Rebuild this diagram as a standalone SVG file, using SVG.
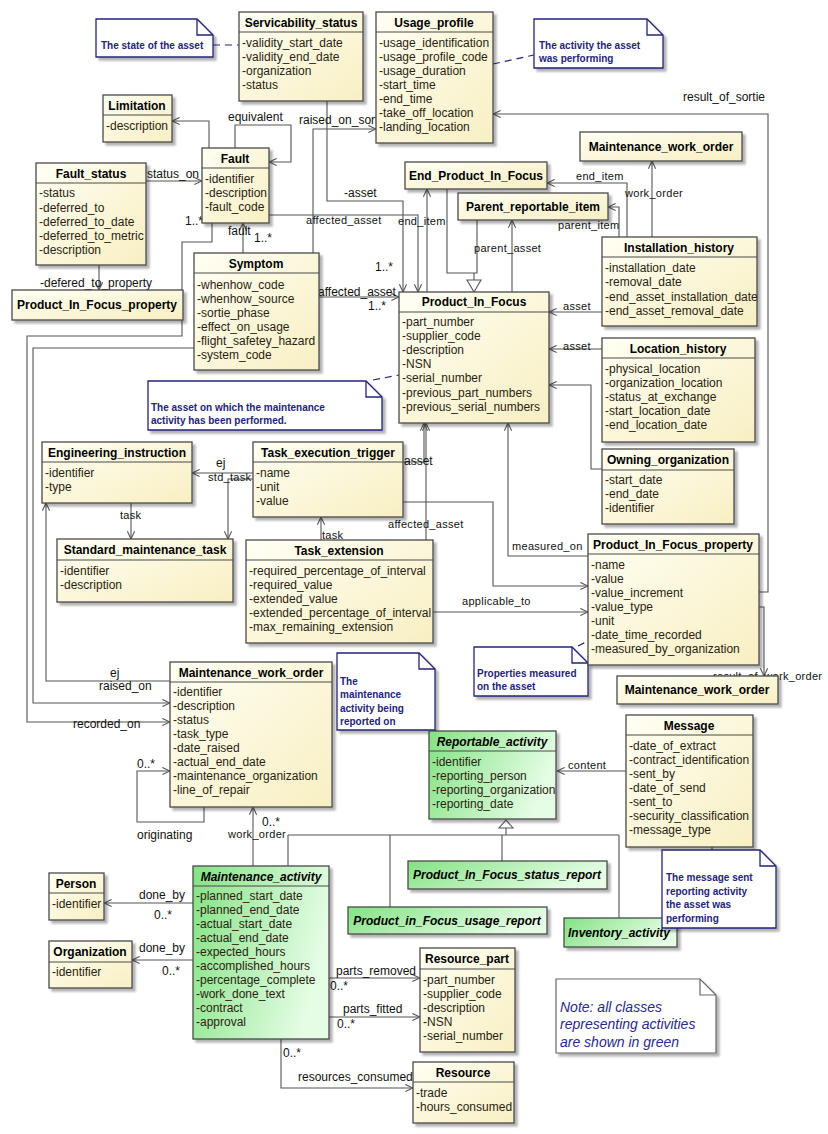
<svg xmlns="http://www.w3.org/2000/svg" width="828" height="1134" viewBox="0 0 828 1134">
<defs>
<linearGradient id="gy" x1="0" y1="0" x2="1" y2="1"><stop offset="0" stop-color="#fffff4"/><stop offset="1" stop-color="#f8efc2"/></linearGradient>
<linearGradient id="gg" x1="0" y1="0" x2="1" y2="0.3"><stop offset="0" stop-color="#84e284"/><stop offset="1" stop-color="#e4fde4"/></linearGradient>
<filter id="sh" x="-10%" y="-10%" width="125%" height="130%"><feDropShadow dx="3" dy="3" stdDeviation="1.2" flood-color="#000" flood-opacity="0.3"/></filter>
<marker id="oa" viewBox="0 0 10 10" refX="9.5" refY="5" markerWidth="9" markerHeight="9" orient="auto" markerUnits="userSpaceOnUse"><path d="M1,1 L9.5,5 L1,9" fill="none" stroke="#555" stroke-width="1.2"/></marker>
</defs>
<style>
.box{fill:url(#gy);stroke:#4a4a4a;stroke-width:1.3;filter:url(#sh)}
.gbox{fill:url(#gg);stroke:#4a4a4a;stroke-width:1.3;filter:url(#sh)}
.sep{stroke:#4a4a4a;stroke-width:1.2}
.t{font-family:"Liberation Sans",Arial,sans-serif;font-size:12px;font-weight:bold;text-anchor:middle;fill:#000}
.ti{font-family:"Liberation Sans",Arial,sans-serif;font-size:12px;font-weight:bold;font-style:italic;text-anchor:middle;fill:#000}
.a{font-family:"Liberation Sans",Arial,sans-serif;font-size:12px;fill:#2b1d10}
.c{fill:none;stroke:#555;stroke-width:1.1}
.ar{marker-end:url(#oa)}
.lb{font-family:"Liberation Sans",Arial,sans-serif;font-size:12px;fill:#111}
.ls{font-family:"Liberation Sans",Arial,sans-serif;font-size:11px;fill:#111;letter-spacing:0.3px}
.note{fill:#fff;stroke:#24247a;stroke-width:1.3;filter:url(#sh)}
.gnote{fill:#fff;stroke:#666;stroke-width:1.2;filter:url(#sh)}
.fold{fill:none;stroke:#24247a;stroke-width:1.3}
.gfold{fill:none;stroke:#666;stroke-width:1.2}
.nt{font-family:"Liberation Sans",Arial,sans-serif;font-size:10px;font-weight:bold;fill:#24247a}
.nti{font-family:"Liberation Sans",Arial,sans-serif;font-size:14px;font-style:italic;fill:#2a2a8a}
.dash{fill:none;stroke:#24247a;stroke-width:1.2;stroke-dasharray:7,5}
</style>
<rect width="828" height="1134" fill="#fff"/>

<g id="connectors">
<path class="dash" d="M213,45 H240"/>
<path class="dash" d="M493,64 L534,55"/>
<path class="dash" d="M373,380 L399,375"/>
<path class="dash" d="M578,646 L588,641"/>
<path class="dash" d="M435,730 L440,734"/>
<path class="c" d="M712,847 V850" style="stroke:#24247a"/>
<path class="c ar" d="M209,148 V121 H172"/>
<path class="c ar" d="M235,148 V125 H291 V162 H269"/>
<path class="c ar" d="M146,181 H202"/>
<path class="c ar" d="M99,265 V290"/>
<path class="c ar" d="M243,253 V223"/>
<path class="c ar" d="M212,223 V242 H182 V336 H27 V722 H170"/>
<path class="c ar" d="M194,348 H33 V703 H170"/>
<path class="c ar" d="M170,681 H46 V503"/>
<path class="c ar" d="M313,253 V129 H376"/>
<path class="c ar" d="M327,101 V201 H403 V292"/>
<path class="c ar" d="M269,215 H418 V292"/>
<path class="c ar" d="M427,292 V189"/>
<path class="c" d="M447,189 V273 H477 V220 M474,273 V280"/>
<path d="M467,280 H481 L474,292 Z" fill="#fff" stroke="#555" stroke-width="1.1"/>
<path class="c ar" d="M512,292 V220"/>
<path class="c ar" d="M652,237 V161"/>
<path class="c ar" d="M627,237 V183 H547"/>
<path class="c ar" d="M619,237 V207 H608"/>
<path class="c ar" d="M759,592 H768 V114 H493"/>
<path class="c ar" d="M602,312 H549"/>
<path class="c ar" d="M602,349 H549"/>
<path class="c ar" d="M602,469 H591 V385 H549"/>
<path class="c ar" d="M319,297 H399"/>
<path class="c ar" d="M403,462 H424 V423"/>
<path class="c ar" d="M426,540 V423"/>
<path class="c ar" d="M588,556 H508 V423"/>
<path class="c ar" d="M403,502 H493 V586 H588"/>
<path class="c ar" d="M433,612 H588"/>
<path class="c ar" d="M253,473 H192"/>
<path class="c ar" d="M253,479 H228 V539"/>
<path class="c ar" d="M131,503 V539"/>
<path class="c ar" d="M321,540 V517"/>
<path class="c ar" d="M759,607 H764 V676"/>
<path class="c ar" d="M626,771 H557"/>
<path class="c" d="M506,828 V835 M288,835 H619 M288,835 V866 M390,835 V907 M502,835 V861 M619,835 V918"/>
<path d="M499,828 H513 L506,820 Z" fill="#fff" stroke="#555" stroke-width="1.1"/>
<path class="c ar" d="M253,866 V807"/>
<path class="c ar" d="M204,807 V822 H137 V771 H170"/>
<path class="c ar" d="M193,903 H104"/>
<path class="c ar" d="M193,960 H132"/>
<path class="c ar" d="M329,978 H420"/>
<path class="c ar" d="M329,1017 H420"/>
<path class="c ar" d="M281,1039 V1088 H413"/>
<text class="lb" x="228" y="121">equivalent</text>
<text class="lb" x="147" y="178">status_on</text>
<text class="lb" x="40" y="287">-defered_to_property</text>
<text class="lb" x="228" y="235">fault</text>
<text class="lb" x="254" y="242">1..*</text>
<text class="lb" x="185" y="225">1..*</text>
<text class="lb" x="73" y="728">recorded_on</text>
<text class="lb" x="99" y="690">raised_on</text>
<text class="lb" x="110" y="677">ej</text>
<text class="lb" x="299" y="124">raised_on_sortie</text>
<text class="lb" x="344" y="197">-asset</text>
<text class="ls" x="306" y="224">affected_asset</text>
<text class="lb" x="375" y="271">1..*</text>
<text class="ls" x="398" y="225">end_item</text>
<text class="ls" x="474" y="252">parent_asset</text>
<text class="ls" x="625" y="197">work_order</text>
<text class="ls" x="576" y="180">end_item</text>
<text class="ls" x="558" y="229">parent_item</text>
<text class="lb" x="683" y="101">result_of_sortie</text>
<text class="ls" x="563" y="310">asset</text>
<text class="ls" x="563" y="350">asset</text>
<text class="lb" x="318" y="296">affected_asset</text>
<text class="lb" x="368" y="310">1..*</text>
<text class="lb" x="404" y="465">asset</text>
<text class="ls" x="388" y="528">affected_asset</text>
<text class="ls" x="512" y="550">measured_on</text>
<text class="ls" x="462" y="605">applicable_to</text>
<text class="lb" x="216" y="467">ej</text>
<text class="ls" x="208" y="481">std_task</text>
<text class="ls" x="120" y="519">task</text>
<text class="ls" x="322" y="539">task</text>
<text class="ls" x="713" y="680">result_of_work_order</text>
<text class="ls" x="568" y="769">content</text>
<text class="lb" x="262" y="826">0..*</text>
<text class="ls" x="228" y="838">work_order</text>
<text class="lb" x="137" y="768">0..*</text>
<text class="lb" x="137" y="839">originating</text>
<text class="lb" x="139" y="899">done_by</text>
<text class="lb" x="154" y="919">0..*</text>
<text class="lb" x="139" y="952">done_by</text>
<text class="lb" x="162" y="975">0..*</text>
<text class="lb" x="336" y="975">parts_removed</text>
<text class="lb" x="330" y="990">0..*</text>
<text class="lb" x="343" y="1013">parts_fitted</text>
<text class="lb" x="337" y="1028">0..*</text>
<text class="lb" x="298" y="1081">resources_consumed</text>
<text class="lb" x="283" y="1057">0..*</text>
</g>

<g id="note_state">
<path class="note" d="M96,19 H197 L213,35 V57 H96 Z"/><path class="fold" d="M197,19 V35 H213"/>
<text class="nt" x="101" y="49">The state of the asset</text>
</g>
<g id="note_activity">
<path class="note" d="M534,19 H647 L663,35 V68 H534 Z"/><path class="fold" d="M647,19 V35 H663"/>
<text class="nt"><tspan x="539" y="49">The activity the asset</tspan><tspan x="539" y="62">was performing</tspan></text>
</g>
<g id="note_asset">
<path class="note" d="M148,381 H366 L382,397 V430 H148 Z"/><path class="fold" d="M366,381 V397 H382"/>
<text class="nt"><tspan x="151" y="411">The asset on which the maintenance</tspan><tspan x="151" y="424">activity has been performed.</tspan></text>
</g>
<g id="note_reported">
<path class="note" d="M337,653 H419 L435,669 V730 H337 Z"/><path class="fold" d="M419,653 V669 H435"/>
<text class="nt"><tspan x="340" y="685">The</tspan><tspan x="340" y="698">maintenance</tspan><tspan x="340" y="712">activity being</tspan><tspan x="340" y="725">reported on</tspan></text>
</g>
<g id="note_properties">
<path class="note" d="M474,647 H572 L588,663 V696 H474 Z"/><path class="fold" d="M572,647 V663 H588"/>
<text class="nt"><tspan x="477" y="677">Properties measured</tspan><tspan x="477" y="690">on the asset</tspan></text>
</g>
<g id="note_green">
<path class="gnote" d="M556,979 H700 L716,995 V1053 H556 Z"/><path class="gfold" d="M700,979 V995 H716"/>
<text class="nti"><tspan x="560" y="1012">Note: all classes</tspan><tspan x="560" y="1029">representing activities</tspan><tspan x="560" y="1047">are shown in green</tspan></text>
</g>

<g id="servicability_status">
<rect class="box" x="239" y="12" width="124" height="89"/><line class="sep" x1="239" y1="32" x2="363" y2="32"/>
<text class="t" x="301" y="27">Servicability_status</text>
<text class="a"><tspan x="242" y="47">-validity_start_date</tspan><tspan x="242" y="61">-validity_end_date</tspan><tspan x="242" y="75">-organization</tspan><tspan x="242" y="89">-status</tspan></text>
</g>
<g id="usage_profile">
<rect class="box" x="376" y="12" width="117" height="131"/><line class="sep" x1="376" y1="32" x2="493" y2="32"/>
<text class="t" x="434" y="27">Usage_profile</text>
<text class="a"><tspan x="379" y="47">-usage_identification</tspan><tspan x="379" y="61">-usage_profile_code</tspan><tspan x="379" y="75">-usage_duration</tspan><tspan x="379" y="89">-start_time</tspan><tspan x="379" y="103">-end_time</tspan><tspan x="379" y="117">-take_off_location</tspan><tspan x="379" y="131">-landing_location</tspan></text>
</g>
<g id="limitation">
<rect class="box" x="103" y="95" width="69" height="47"/><line class="sep" x1="103" y1="115" x2="172" y2="115"/>
<text class="t" x="137" y="110">Limitation</text>
<text class="a" x="106" y="130">-description</text>
</g>
<g id="fault">
<rect class="box" x="202" y="148" width="67" height="75"/><line class="sep" x1="202" y1="168" x2="269" y2="168"/>
<text class="t" x="235" y="163">Fault</text>
<text class="a"><tspan x="205" y="183">-identifier</tspan><tspan x="205" y="197">-description</tspan><tspan x="205" y="211">-fault_code</tspan></text>
</g>
<g id="fault_status">
<rect class="box" x="36" y="163" width="110" height="102"/><line class="sep" x1="36" y1="183" x2="146" y2="183"/>
<text class="t" x="91" y="178">Fault_status</text>
<text class="a"><tspan x="39" y="197">-status</tspan><tspan x="39" y="212">-deferred_to</tspan><tspan x="39" y="226">-deferred_to_date</tspan><tspan x="39" y="240">-deferred_to_metric</tspan><tspan x="39" y="254">-description</tspan></text>
</g>
<g id="pif_property_ref">
<rect class="box" x="12" y="290" width="171" height="30"/>
<text class="t" x="97" y="309">Product_In_Focus_property</text>
</g>
<g id="symptom">
<rect class="box" x="194" y="253" width="125" height="117"/><line class="sep" x1="194" y1="273" x2="319" y2="273"/>
<text class="t" x="256" y="268">Symptom</text>
<text class="a"><tspan x="197" y="289">-whenhow_code</tspan><tspan x="197" y="303">-whenhow_source</tspan><tspan x="197" y="317">-sortie_phase</tspan><tspan x="197" y="331">-effect_on_usage</tspan><tspan x="197" y="345">-flight_safetey_hazard</tspan><tspan x="197" y="359">-system_code</tspan></text>
</g>
<g id="end_product_in_focus">
<rect class="box" x="405" y="162" width="142" height="27"/>
<text class="t" x="476" y="180">End_Product_In_Focus</text>
</g>
<g id="parent_reportable_item">
<rect class="box" x="458" y="193" width="150" height="27"/>
<text class="t" x="533" y="211">Parent_reportable_item</text>
</g>
<g id="mwo_ref_top">
<rect class="box" x="580" y="132" width="162" height="29"/>
<text class="t" x="661" y="151">Maintenance_work_order</text>
</g>
<g id="installation_history">
<rect class="box" x="602" y="237" width="155" height="89"/><line class="sep" x1="602" y1="257" x2="757" y2="257"/>
<text class="t" x="679" y="252">Installation_history</text>
<text class="a"><tspan x="605" y="272">-installation_date</tspan><tspan x="605" y="286">-removal_date</tspan><tspan x="605" y="301">-end_asset_installation_date</tspan><tspan x="605" y="315">-end_asset_removal_date</tspan></text>
</g>
<g id="product_in_focus">
<rect class="box" x="399" y="292" width="150" height="131"/><line class="sep" x1="399" y1="312" x2="549" y2="312"/>
<text class="t" x="474" y="306">Product_In_Focus</text>
<text class="a"><tspan x="402" y="326">-part_number</tspan><tspan x="402" y="340">-supplier_code</tspan><tspan x="402" y="354">-description</tspan><tspan x="402" y="368">-NSN</tspan><tspan x="402" y="382">-serial_number</tspan><tspan x="402" y="397">-previous_part_numbers</tspan><tspan x="402" y="411">-previous_serial_numbers</tspan></text>
</g>
<g id="location_history">
<rect class="box" x="602" y="338" width="153" height="104"/><line class="sep" x1="602" y1="358" x2="755" y2="358"/>
<text class="t" x="678" y="353">Location_history</text>
<text class="a"><tspan x="605" y="373">-physical_location</tspan><tspan x="605" y="387">-organization_location</tspan><tspan x="605" y="401">-status_at_exchange</tspan><tspan x="605" y="415">-start_location_date</tspan><tspan x="605" y="429">-end_location_date</tspan></text>
</g>
<g id="owning_organization">
<rect class="box" x="602" y="449" width="132" height="75"/><line class="sep" x1="602" y1="470" x2="734" y2="470"/>
<text class="t" x="668" y="464">Owning_organization</text>
<text class="a"><tspan x="605" y="484">-start_date</tspan><tspan x="605" y="498">-end_date</tspan><tspan x="605" y="512">-identifier</tspan></text>
</g>
<g id="engineering_instruction">
<rect class="box" x="42" y="442" width="150" height="61"/><line class="sep" x1="42" y1="462" x2="192" y2="462"/>
<text class="t" x="117" y="457">Engineering_instruction</text>
<text class="a"><tspan x="45" y="477">-identifier</tspan><tspan x="45" y="491">-type</tspan></text>
</g>
<g id="task_execution_trigger">
<rect class="box" x="253" y="442" width="150" height="75"/><line class="sep" x1="253" y1="462" x2="403" y2="462"/>
<text class="t" x="328" y="457">Task_execution_trigger</text>
<text class="a"><tspan x="256" y="477">-name</tspan><tspan x="256" y="491">-unit</tspan><tspan x="256" y="505">-value</tspan></text>
</g>
<g id="standard_maintenance_task">
<rect class="box" x="57" y="539" width="176" height="63"/><line class="sep" x1="57" y1="560" x2="233" y2="560"/>
<text class="t" x="145" y="554">Standard_maintenance_task</text>
<text class="a"><tspan x="60" y="575">-identifier</tspan><tspan x="60" y="589">-description</tspan></text>
</g>
<g id="task_extension">
<rect class="box" x="246" y="540" width="187" height="103"/><line class="sep" x1="246" y1="560" x2="433" y2="560"/>
<text class="t" x="339" y="555">Task_extension</text>
<text class="a"><tspan x="249" y="575">-required_percentage_of_interval</tspan><tspan x="249" y="589">-required_value</tspan><tspan x="249" y="603">-extended_value</tspan><tspan x="249" y="617">-extended_percentage_of_interval</tspan><tspan x="249" y="631">-max_remaining_extension</tspan></text>
</g>
<g id="pif_property">
<rect class="box" x="588" y="534" width="171" height="131"/><line class="sep" x1="588" y1="554" x2="759" y2="554"/>
<text class="t" x="673" y="549">Product_In_Focus_property</text>
<text class="a"><tspan x="591" y="569">-name</tspan><tspan x="591" y="583">-value</tspan><tspan x="591" y="597">-value_increment</tspan><tspan x="591" y="611">-value_type</tspan><tspan x="591" y="625">-unit</tspan><tspan x="591" y="639">-date_time_recorded</tspan><tspan x="591" y="653">-measured_by_organization</tspan></text>
</g>
<g id="maintenance_work_order">
<rect class="box" x="170" y="662" width="162" height="145"/><line class="sep" x1="170" y1="682" x2="332" y2="682"/>
<text class="t" x="251" y="677">Maintenance_work_order</text>
<text class="a"><tspan x="173" y="696">-identifier</tspan><tspan x="173" y="710">-description</tspan><tspan x="173" y="724">-status</tspan><tspan x="173" y="738">-task_type</tspan><tspan x="173" y="752">-date_raised</tspan><tspan x="173" y="766">-actual_end_date</tspan><tspan x="173" y="780">-maintenance_organization</tspan><tspan x="173" y="794">-line_of_repair</tspan></text>
</g>
<g id="mwo_ref_bottom">
<rect class="box" x="617" y="676" width="161" height="28"/>
<text class="t" x="697" y="694">Maintenance_work_order</text>
</g>
<g id="message">
<rect class="box" x="626" y="715" width="127" height="132"/><line class="sep" x1="626" y1="735" x2="753" y2="735"/>
<text class="t" x="689" y="730">Message</text>
<text class="a"><tspan x="629" y="750">-date_of_extract</tspan><tspan x="629" y="764">-contract_identification</tspan><tspan x="629" y="778">-sent_by</tspan><tspan x="629" y="792">-date_of_send</tspan><tspan x="629" y="806">-sent_to</tspan><tspan x="629" y="820">-security_classification</tspan><tspan x="629" y="834">-message_type</tspan></text>
</g>
<g id="reportable_activity">
<rect class="gbox" x="429" y="731" width="127" height="88"/><line class="sep" x1="429" y1="751" x2="556" y2="751"/>
<text class="ti" x="492" y="746">Reportable_activity</text>
<text class="a"><tspan x="432" y="766">-identifier</tspan><tspan x="432" y="780">-reporting_person</tspan><tspan x="432" y="794">-reporting_organization</tspan><tspan x="432" y="808">-reporting_date</tspan></text>
</g>
<g id="pif_status_report">
<rect class="gbox" x="408" y="861" width="199" height="28"/>
<text class="ti" x="507" y="879">Product_In_Focus_status_report</text>
</g>
<g id="pif_usage_report">
<rect class="gbox" x="348" y="907" width="199" height="27"/>
<text class="ti" x="447" y="925">Product_in_Focus_usage_report</text>
</g>
<g id="inventory_activity">
<rect class="gbox" x="564" y="918" width="113" height="29"/>
<text class="ti" x="619" y="937">Inventory_activity</text>
</g>
<g id="maintenance_activity">
<rect class="gbox" x="193" y="866" width="136" height="173"/><line class="sep" x1="193" y1="886" x2="329" y2="886"/>
<text class="ti" x="261" y="881">Maintenance_activity</text>
<text class="a"><tspan x="196" y="900">-planned_start_date</tspan><tspan x="196" y="914">-planned_end_date</tspan><tspan x="196" y="928">-actual_start_date</tspan><tspan x="196" y="942">-actual_end_date</tspan><tspan x="196" y="956">-expected_hours</tspan><tspan x="196" y="970">-accomplished_hours</tspan><tspan x="196" y="984">-percentage_complete</tspan><tspan x="196" y="998">-work_done_text</tspan><tspan x="196" y="1012">-contract</tspan><tspan x="196" y="1026">-approval</tspan></text>
</g>
<g id="person">
<rect class="box" x="49" y="873" width="55" height="47"/><line class="sep" x1="49" y1="893" x2="104" y2="893"/>
<text class="t" x="76" y="888">Person</text>
<text class="a" x="52" y="908">-identifier</text>
</g>
<g id="organization">
<rect class="box" x="49" y="941" width="83" height="47"/><line class="sep" x1="49" y1="962" x2="132" y2="962"/>
<text class="t" x="90" y="956">Organization</text>
<text class="a" x="52" y="976">-identifier</text>
</g>
<g id="resource_part">
<rect class="box" x="420" y="948" width="95" height="104"/><line class="sep" x1="420" y1="969" x2="515" y2="969"/>
<text class="t" x="467" y="963">Resource_part</text>
<text class="a"><tspan x="423" y="984">-part_number</tspan><tspan x="423" y="998">-supplier_code</tspan><tspan x="423" y="1012">-description</tspan><tspan x="423" y="1026">-NSN</tspan><tspan x="423" y="1040">-serial_number</tspan></text>
</g>
<g id="resource">
<rect class="box" x="413" y="1062" width="101" height="61"/><line class="sep" x1="413" y1="1082" x2="514" y2="1082"/>
<text class="t" x="463" y="1077">Resource</text>
<text class="a"><tspan x="416" y="1097">-trade</tspan><tspan x="416" y="1111">-hours_consumed</tspan></text>
</g>
<g id="note_message">
<path class="note" d="M662,850 H760 L776,866 V928 H662 Z"/><path class="fold" d="M760,850 V866 H776"/>
<text class="nt"><tspan x="666" y="881">The message sent</tspan><tspan x="666" y="895">reporting activity</tspan><tspan x="666" y="908">the asset was</tspan><tspan x="666" y="922">performing</tspan></text>
</g>
</svg>
